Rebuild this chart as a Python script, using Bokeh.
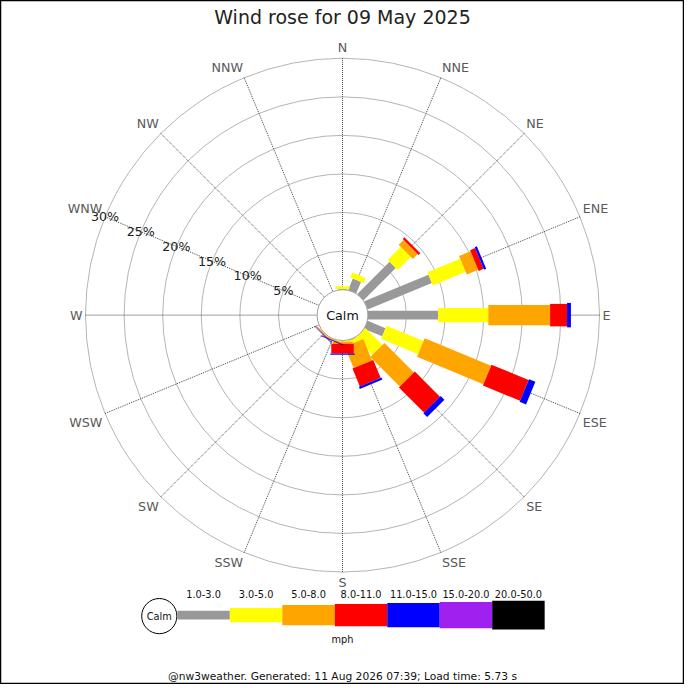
import numpy as np
from bokeh.plotting import figure
from bokeh.models import ColumnDataSource, Range1d
from bokeh.core.properties import value
from bokeh.embed import file_html
from bokeh.resources import INLINE

# ---------------- data ----------------
title_text = "Wind rose for 09 May 2025"
footer_text = "@nw3weather. Generated: 11 Aug 2026 07:39; Load time: 5.73 s"
directions = ["N", "NNE", "NE", "ENE", "E", "ESE", "SE", "SSE",
              "S", "SSW", "SW", "WSW", "W", "WNW", "NW", "NNW"]
speed_bins = ["1.0-3.0", "3.0-5.0", "5.0-8.0", "8.0-11.0", "11.0-15.0", "15.0-20.0", "20.0-50.0"]
speed_unit = "mph"
calm_label = "Calm"

# percentage of time per direction for each speed bin
pct_1_3 = [0.10, 1.60, 5.90, 9.00, 9.10, 2.50, 0.00, 0.10, 0.00, 0.00, 0.00, 0.00, 0.00, 0.00, 0.00, 0.00]
pct_3_5 = [0.35, 0.70, 2.40, 4.60, 6.50, 5.20, 3.10, 0.50, 0.15, 0.05, 0.05, 0.00, 0.00, 0.00, 0.00, 0.00]
pct_5_8 = [0.00, 0.00, 0.90, 1.60, 8.00, 9.30, 5.40, 3.00, 0.27, 0.12, 0.12, 0.00, 0.00, 0.00, 0.00, 0.00]
pct_8_11 = [0.00, 0.00, 0.30, 0.70, 2.20, 5.20, 4.60, 2.50, 1.27, 0.05, 0.05, 0.00, 0.00, 0.00, 0.00, 0.00]
pct_11_15 = [0.00, 0.00, 0.00, 0.30, 0.50, 0.90, 0.70, 0.30, 0.15, 0.08, 0.08, 0.00, 0.00, 0.00, 0.00, 0.00]
pct_15_20 = [0.00, 0.00, 0.00, 0.00, 0.00, 0.00, 0.00, 0.00, 0.00, 0.00, 0.00, 0.00, 0.00, 0.00, 0.00, 0.00]
pct_20_50 = [0.00, 0.00, 0.00, 0.00, 0.00, 0.00, 0.00, 0.00, 0.00, 0.00, 0.00, 0.00, 0.00, 0.00, 0.00, 0.00]

ring_pcts = [5, 10, 15, 20, 25, 30]
ring_labels = ["5%", "10%", "15%", "20%", "25%", "30%"]

# ---------------- styles ----------------
bin_colors = ["#999999", "#ffff00", "#ffa500", "#ff0000", "#0000ff", "#a020f0", "#000000"]
bin_thickness = [9, 14.5, 20.5, 23, 25, 27, 29.5]
FONT = value("DejaVu Sans")

CALM_R = 26.0        # radius of calm circle (layout units)
PX_PER_PCT = 7.9     # layout units per percent
OUTER_PCT = 30

W = H = 684
# layout units span 700 across the 684px canvas
p = figure(width=W, height=H, x_range=Range1d(-350, 350), y_range=Range1d(-378, 322),
           output_backend="svg", toolbar_location=None, min_border=0,
           x_axis_location=None, y_axis_location=None)
p.grid.visible = False
p.outline_line_color = "black"
p.outline_line_width = 1.5
p.background_fill_color = "white"
p.border_fill_color = "white"

def rad(pct):
    return CALM_R + PX_PER_PCT * np.asarray(pct, dtype=float)

theta = np.deg2rad(np.arange(len(directions)) * 360.0 / len(directions))
R_OUT = float(rad(OUTER_PCT))

# rings
p.circle(x=[0] * len(ring_pcts), y=[0] * len(ring_pcts), radius=list(rad(ring_pcts)),
         fill_color=None, line_color="#b4b4b4", line_width=1)
# spokes
p.segment(x0=np.zeros(len(theta)), y0=np.zeros(len(theta)),
          x1=R_OUT * np.sin(theta), y1=R_OUT * np.cos(theta),
          line_color="#444444", line_width=1, line_dash="1 1")

# bars
series = [pct_1_3, pct_3_5, pct_5_8, pct_8_11, pct_11_15, pct_15_20, pct_20_50]
cum = np.zeros(len(directions))
for k, s in enumerate(series):
    s = np.asarray(s, dtype=float)
    r0 = rad(cum)
    cum = cum + s
    r1 = rad(cum)
    m = s > 0
    if not m.any():
        continue
    rc = (r0 + r1) / 2
    src = ColumnDataSource(dict(x=(rc * np.sin(theta))[m], y=(rc * np.cos(theta))[m],
                                w=(r1 - r0)[m], a=(np.pi / 2 - theta)[m]))
    p.rect(x="x", y="y", width="w", height=bin_thickness[k], angle="a",
           fill_color=bin_colors[k], line_color=None, source=src)

# calm circle
p.circle(x=[0], y=[0], radius=CALM_R, fill_color="white", line_color="#a0a0a0", line_width=1)
p.text(x=[0], y=[0], text=[calm_label], text_font=FONT, text_font_size="12.7px",
       text_align="center", text_baseline="middle", text_color="#111111")

# ring labels along WNW spoke
lab_th = np.deg2rad(292.5)
rr = rad(ring_pcts)
p.text(x=rr * np.sin(lab_th), y=rr * np.cos(lab_th), text=ring_labels, text_font=FONT,
       text_font_size="12.7px", text_align="center", text_baseline="middle", text_color="#222222")

# direction labels
R_LAB = R_OUT + 3
for d, th in zip(directions, theta):
    sx, cy = np.sin(th), np.cos(th)
    align = "left" if sx > 0.01 else ("right" if sx < -0.01 else "center")
    base = "bottom" if cy > 0.01 else ("top" if cy < -0.01 else "middle")
    p.text(x=[R_LAB * sx], y=[R_LAB * cy], text=[d], text_font=FONT, text_font_size="12.7px",
           text_align=align, text_baseline=base, text_color="#5a5a5a")

# title
p.text(x=[0], y=[305], text=[title_text], text_font=FONT, text_font_size="19px",
       text_align="center", text_baseline="middle", text_color="#222222")

# legend
LEG_Y = -307
SEG_W = 53.7
SEG_X0 = -169
p.circle(x=[SEG_X0 - 18.5], y=[LEG_Y - 1], radius=18, fill_color="white", line_color="black", line_width=1)
p.text(x=[SEG_X0 - 18.5], y=[LEG_Y - 1], text=[calm_label], text_font=FONT, text_font_size="9.8px",
       text_align="center", text_baseline="middle", text_color="#111111")
for k, lab in enumerate(speed_bins):
    xl = SEG_X0 + k * SEG_W
    p.quad(left=[xl], right=[xl + SEG_W], bottom=[LEG_Y - bin_thickness[k] / 2],
           top=[LEG_Y + bin_thickness[k] / 2], fill_color=bin_colors[k], line_color=None)
    p.text(x=[xl + SEG_W / 2], y=[LEG_Y + 21.5], text=[lab], text_font=FONT, text_font_size="9.8px",
           text_align="center", text_baseline="middle", text_color="#111111")
p.text(x=[0], y=[-331.5], text=[speed_unit], text_font=FONT, text_font_size="9.8px",
       text_align="center", text_baseline="middle", text_color="#111111")

# footer
p.text(x=[0], y=[-370], text=[footer_text], text_font=FONT, text_font_size="10.7px",
       text_align="center", text_baseline="middle", text_color="#111111")

open("out.html", "w").write(file_html(p, INLINE))
